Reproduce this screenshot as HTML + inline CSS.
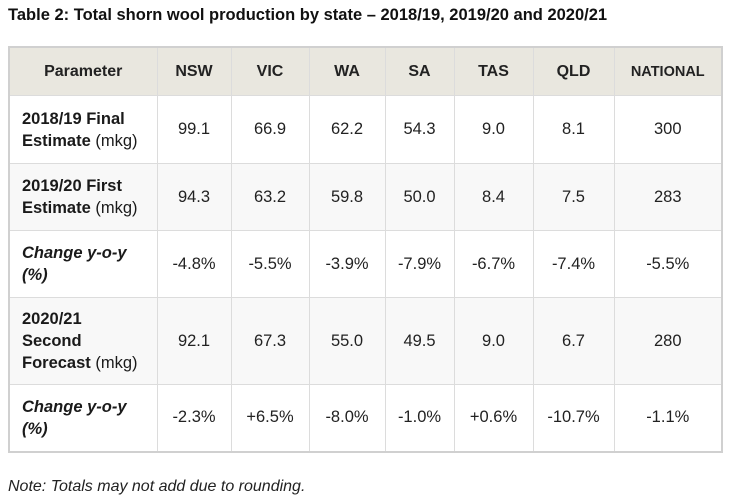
<!DOCTYPE html>
<html><head><meta charset="utf-8">
<style>
body{margin:0;width:730px;height:502px;background:#fff;font-family:"Liberation Sans",Arial,sans-serif;color:#222;position:relative;overflow:hidden}
.title{position:absolute;left:8px;top:6px;font-size:16.5px;font-weight:bold;color:#111}
table{position:absolute;left:8px;top:46px;border-collapse:collapse;border:2px solid #d0d0d0}
td,th{border:1.5px solid #dcdcdc;text-align:center;font-size:16.5px;padding:0}
th{background:#e9e7df;font-weight:bold;height:47px;font-size:16px;color:#222}
td.p{text-align:left;padding-left:12px;font-weight:bold;line-height:22px;color:#1a1a1a}
td.p span{font-weight:normal}
td.i{font-style:italic}
tr.alt td{background:#f8f8f8}
.note{position:absolute;left:8px;top:478px;font-size:16px;font-style:italic;color:#222}
</style></head><body>
<div class="title">Table 2: Total shorn wool production by state – 2018/19, 2019/20 and 2020/21</div>
<table>
<colgroup><col style="width:148px"><col style="width:74px"><col style="width:78px"><col style="width:76px"><col style="width:69px"><col style="width:79px"><col style="width:81px"><col style="width:108px"></colgroup>
<tr><th>Parameter</th><th>NSW</th><th>VIC</th><th>WA</th><th>SA</th><th>TAS</th><th>QLD</th><th style="font-size:14.5px">NATIONAL</th></tr>
<tr style="height:68px"><td class="p">2018/19 Final<br>Estimate <span>(mkg)</span></td><td>99.1</td><td>66.9</td><td>62.2</td><td>54.3</td><td>9.0</td><td>8.1</td><td>300</td></tr>
<tr class="alt" style="height:67px"><td class="p">2019/20 First<br>Estimate <span>(mkg)</span></td><td>94.3</td><td>63.2</td><td>59.8</td><td>50.0</td><td>8.4</td><td>7.5</td><td>283</td></tr>
<tr style="height:67px"><td class="p i">Change y-o-y<br>(%)</td><td>-4.8%</td><td>-5.5%</td><td>-3.9%</td><td>-7.9%</td><td>-6.7%</td><td>-7.4%</td><td>-5.5%</td></tr>
<tr class="alt" style="height:87px"><td class="p">2020/21<br>Second<br>Forecast <span>(mkg)</span></td><td>92.1</td><td>67.3</td><td>55.0</td><td>49.5</td><td>9.0</td><td>6.7</td><td>280</td></tr>
<tr style="height:67px"><td class="p i">Change y-o-y<br>(%)</td><td>-2.3%</td><td>+6.5%</td><td>-8.0%</td><td>-1.0%</td><td>+0.6%</td><td>-10.7%</td><td>-1.1%</td></tr>
</table>
<div class="note">Note: Totals may not add due to rounding.</div>
</body></html>
